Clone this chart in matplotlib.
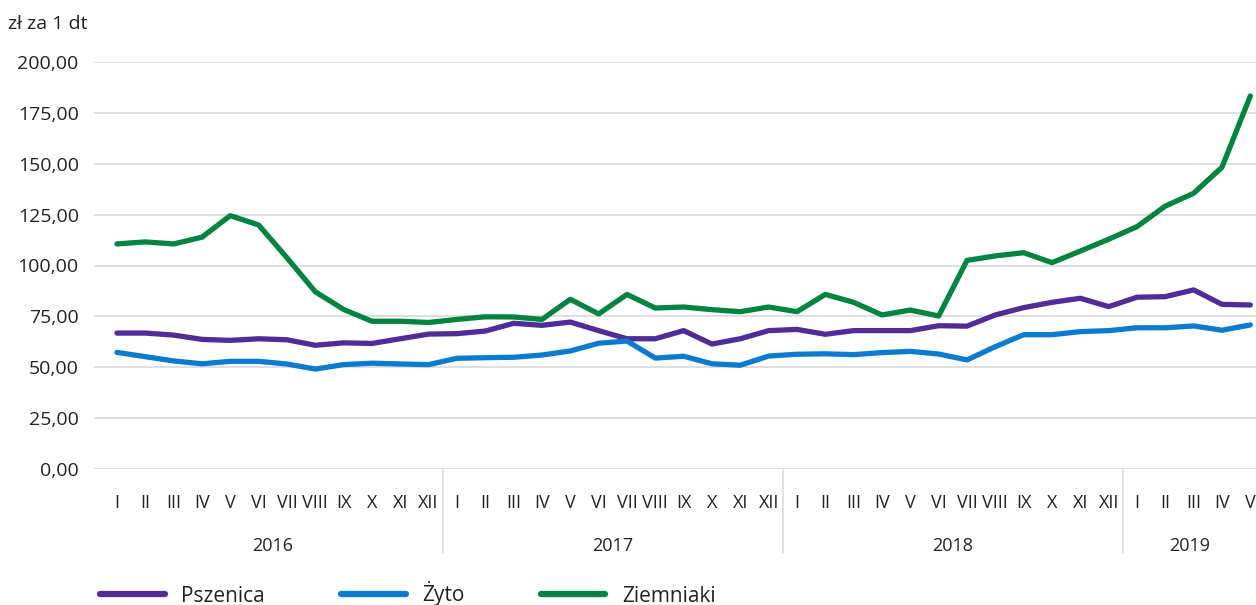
import matplotlib.pyplot as plt
from matplotlib.lines import Line2D
import matplotlib.transforms as mtransforms

plt.rcParams['font.family'] = ['Open Sans', 'DejaVu Sans']
narrow = ['Liberation Sans Narrow', 'Open Sans', 'DejaVu Sans']

months = ['I', 'II', 'III', 'IV', 'V', 'VI', 'VII', 'VIII', 'IX', 'X', 'XI', 'XII']
years = ['2016', '2017', '2018', '2019']
month_labels = months * 3 + months[:5]

pszenica = [66.8, 66.8, 65.8, 63.7, 63.2, 64.0, 63.5, 60.8, 62.0, 61.7, 64.0, 66.3,
            66.5, 67.8, 71.6, 70.6, 72.2, 68.0, 64.0, 64.0, 68.0, 61.4, 64.0, 68.0,
            68.6, 66.2, 68.0, 68.0, 68.0, 70.4, 70.2, 75.7, 79.3, 81.9, 83.9, 79.8,
            84.4, 84.7, 88.0, 80.9, 80.6]
zyto = [57.3, 55.2, 53.1, 51.7, 52.9, 52.9, 51.6, 49.1, 51.3, 52.0, 51.6, 51.3,
        54.4, 54.7, 54.9, 56.0, 58.0, 61.8, 62.9, 54.5, 55.4, 51.7, 51.0, 55.5,
        56.4, 56.6, 56.2, 57.2, 57.8, 56.5, 53.6, 60.1, 66.0, 66.0, 67.5, 68.0,
        69.4, 69.4, 70.3, 68.2, 70.8]
ziemniaki = [110.6, 111.6, 110.6, 113.9, 124.5, 119.9, 103.8, 87.1, 78.4, 72.6, 72.6, 72.0,
             73.5, 74.8, 74.7, 73.5, 83.4, 76.2, 85.8, 79.1, 79.6, 78.3, 77.3, 79.6,
             77.3, 85.8, 81.9, 75.7, 78.1, 75.2, 102.5, 104.7, 106.3, 101.4, 107.1, 112.9,
             119.1, 129.2, 135.5, 148.3, 183.3]

series = [('Pszenica', pszenica, '#4f2c98'),
          ('Żyto', zyto, '#0a7bcf'),
          ('Ziemniaki', ziemniaki, '#00843f')]

fig = plt.figure(figsize=(12.56, 6.05), dpi=100)
ax = fig.add_axes([94 / 1256, 136 / 605, 1 - 94 / 1256, 407 / 605])

x = list(range(len(month_labels)))
for name, vals, col in series:
    ax.plot(x, vals, color=col, lw=3.8, solid_joinstyle='round', solid_capstyle='round', label=name)

ax.set_ylim(0, 200)
ax.set_xlim(-0.81, 40.2)
ax.set_yticks(range(0, 201, 25))
ax.set_yticklabels([f'{v},00' for v in range(0, 201, 25)], fontsize=14, color='#222222')
ax.set_xticks(x)
ax.set_xticklabels(month_labels, fontsize=13, color='#222222', family=narrow)
ax.tick_params(axis='both', length=0)
ax.tick_params(axis='y', pad=11)
ax.tick_params(axis='x', pad=18)
ax.grid(axis='y', color='#dcdcdc', lw=1.3)
ax.set_axisbelow(True)
for s in ax.spines.values():
    s.set_visible(False)

# year bands under the month labels
trans = mtransforms.blended_transform_factory(ax.transData, ax.transAxes)
bounds = [-0.81, 11.5, 23.5, 35.5, 40.2]
for i, yr in enumerate(years):
    mid = (bounds[i] + bounds[i + 1]) / 2
    if i == 0:
        mid = 5.5
    ax.text(mid, -0.188, yr, transform=trans, ha='center', va='center', fontsize=13,
            color='#222222', family=narrow)
for b in bounds[1:4]:
    ax.add_line(Line2D([b, b], [0, -0.207], transform=trans, color='#dcdcdc', lw=1.2, clip_on=False))

fig.text(8 / 1256, 1 - 24 / 605, 'zł za 1 dt', fontsize=14, color='#222222', va='center', ha='left')

leg = fig.legend(loc='center left', bbox_to_anchor=(100 / 1256, 1 - 594 / 605), ncol=3, frameon=False,
                 prop={'family': narrow, 'size': 15}, handlelength=3.1, columnspacing=3.65,
                 handletextpad=0.8, borderpad=0, borderaxespad=0)
for h in leg.legend_handles:
    h.set_linewidth(4.5)
for t in leg.get_texts():
    t.set_color('#222222')

fig.savefig('out.png', dpi=100)
